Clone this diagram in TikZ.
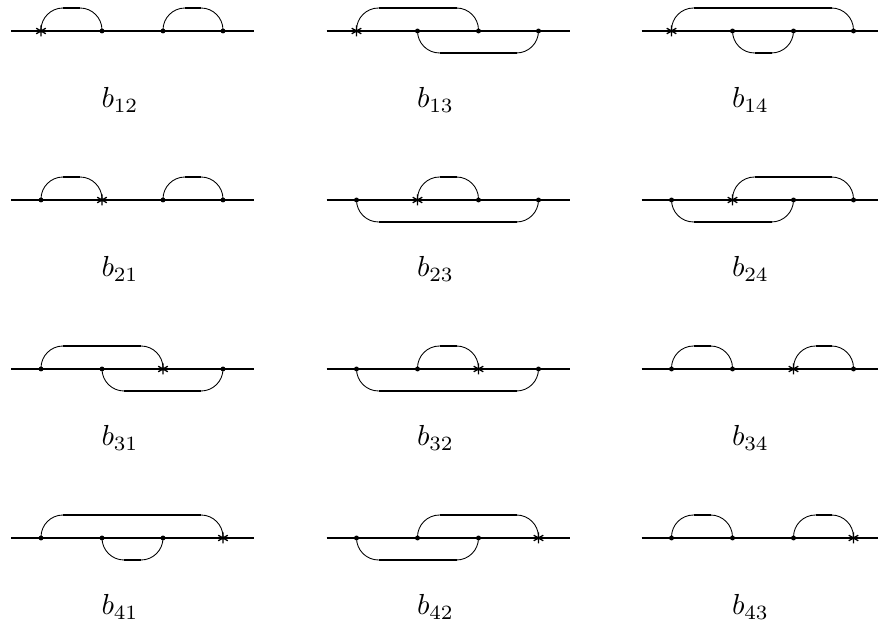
\documentclass[tikz,border=0pt]{standalone}
\usepackage{amsmath}
\usepackage{tikz}
\usetikzlibrary{calc,positioning}

% one chord diagram: base line, four points, label
\newcommand{\chorddiag}[5]{%
  \foreach \k/\xx in {1/41,2/102,3/163,4/223}
    \coordinate (#1-\k) at (#2+\xx,#3);
  \draw[axis] ($(#1-1)+(-30,0)$) -- ($(#1-4)+(31,0)$);
  \node[anchor=base] (#1-lab) at ($(#1-1)!0.5!(#1-4)+(-12,77)$) {$#5$};
}
\newcommand{\arcup}[3]{%
  \draw[arcline] (#1-#2) |- ($(#1-#3)+(0,-23)$) -- (#1-#3);
  \draw[arctop] ($(#1-#2)+(22,-23)$) -- ($(#1-#3)+(-22,-23)$);
}
\newcommand{\arcdown}[3]{%
  \draw[arcline] (#1-#2) |- ($(#1-#3)+(0,22)$) -- (#1-#3);
  \draw[arctop] ($(#1-#2)+(22,22)$) -- ($(#1-#3)+(-22,22)$);
}
\newcommand{\chordpts}[2]{%
  \foreach \k in {1,...,4}{%
    \ifnum\k=#2
      \draw[starline,shift={(#1-\k)}] (90:5.5) -- (270:5.5)
        (30:5.5) -- (210:5.5) (150:5.5) -- (330:5.5);
    \else
      \fill (#1-\k) circle (0.85pt);
    \fi}%
}

\begin{document}
\begin{tikzpicture}[x=0.345pt,y=-0.345pt]
  \tikzstyle{axis}=[line width=0.5pt]
  \tikzstyle{arcline}=[line width=0.3pt,rounded corners=7.6pt]
  \tikzstyle{arctop}=[line width=0.65pt]
  \tikzstyle{starline}=[line width=0.45pt]
  \useasboundingbox (0,0) rectangle (878,626);

  % row 1
  \chorddiag{b12}{0}{31}{}{b_{12}}
  \arcup{b12}{1}{2} \arcup{b12}{3}{4}
  \chordpts{b12}{1}
  \chorddiag{b13}{315.5}{31}{}{b_{13}}
  \arcup{b13}{1}{3} \arcdown{b13}{2}{4}
  \chordpts{b13}{1}
  \chorddiag{b14}{630.5}{31}{}{b_{14}}
  \arcup{b14}{1}{4} \arcdown{b14}{2}{3}
  \chordpts{b14}{1}

  % row 2
  \chorddiag{b21}{0}{200}{}{b_{21}}
  \arcup{b21}{1}{2} \arcup{b21}{3}{4}
  \chordpts{b21}{2}
  \chorddiag{b23}{315.5}{200}{}{b_{23}}
  \arcup{b23}{2}{3} \arcdown{b23}{1}{4}
  \chordpts{b23}{2}
  \chorddiag{b24}{630.5}{200}{}{b_{24}}
  \arcup{b24}{2}{4} \arcdown{b24}{1}{3}
  \chordpts{b24}{2}

  % row 3
  \chorddiag{b31}{0}{369}{}{b_{31}}
  \arcup{b31}{1}{3} \arcdown{b31}{2}{4}
  \chordpts{b31}{3}
  \chorddiag{b32}{315.5}{369}{}{b_{32}}
  \arcup{b32}{2}{3} \arcdown{b32}{1}{4}
  \chordpts{b32}{3}
  \chorddiag{b34}{630.5}{369}{}{b_{34}}
  \arcup{b34}{1}{2} \arcup{b34}{3}{4}
  \chordpts{b34}{3}

  % row 4
  \chorddiag{b41}{0}{538}{}{b_{41}}
  \arcup{b41}{1}{4} \arcdown{b41}{2}{3}
  \chordpts{b41}{4}
  \chorddiag{b42}{315.5}{538}{}{b_{42}}
  \arcup{b42}{2}{4} \arcdown{b42}{1}{3}
  \chordpts{b42}{4}
  \chorddiag{b43}{630.5}{538}{}{b_{43}}
  \arcup{b43}{1}{2} \arcup{b43}{3}{4}
  \chordpts{b43}{4}
\end{tikzpicture}
\end{document}
